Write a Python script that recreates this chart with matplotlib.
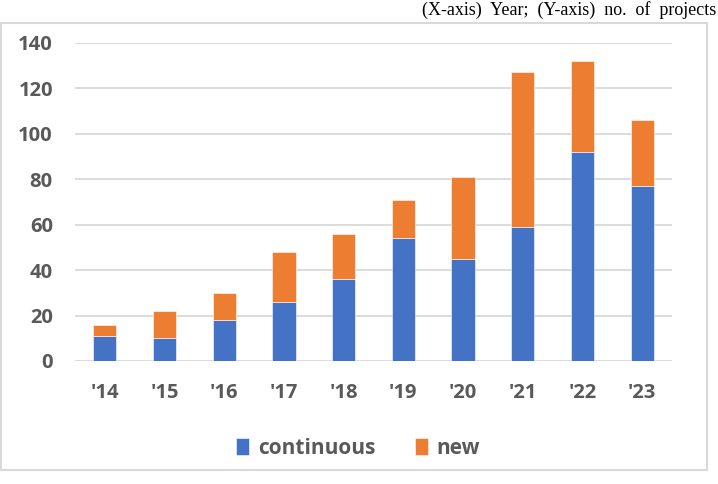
import numpy as np
import matplotlib
matplotlib.use("Agg")
import matplotlib.pyplot as plt
from matplotlib.patches import Rectangle

years = ["'14", "'15", "'16", "'17", "'18", "'19", "'20", "'21", "'22", "'23"]
continuous = [11, 10, 18, 26, 36, 54, 45, 59, 92, 77]
new = [5, 12, 12, 22, 20, 17, 36, 68, 40, 29]
yticks = [0, 20, 40, 60, 80, 100, 120, 140]

blue = '#4472C4'
orange = '#ED7D31'
grey = '#595959'
font = 'Open Sans'

fig = plt.figure(figsize=(7.18, 4.84), dpi=100)

# outer chart frame
fig.patches.append(Rectangle((0.001, 1 - 470/484), 706/718, (470 - 23)/484,
                             transform=fig.transFigure, fill=False,
                             edgecolor='#d9d9d9', linewidth=1.5))
fig.text(0.998, 0.997, '(X-axis)  Year;  (Y-axis)  no.  of  projects', ha='right', va='top',
         family='Liberation Serif', fontsize=13)

ax = fig.add_axes([75/718, 1 - 361/484, (672 - 75)/718, (361 - 42.7)/484])
x = np.arange(len(years))
ax.bar(x, continuous, width=0.39, color=blue, edgecolor='white', linewidth=0.4,
       label='continuous', zorder=3)
ax.bar(x, new, width=0.39, bottom=continuous, color=orange, edgecolor='white',
       linewidth=0.4, label='new', zorder=3)

ax.set_xlim(-0.5, len(years) - 0.5)
ax.set_ylim(0, 140)
ax.set_yticks(yticks)
ax.set_xticks(x)
ax.set_xticklabels(years)
ax.grid(axis='y', color='#d9d9d9', linewidth=1.3, zorder=0)
ax.tick_params(length=0, labelsize=14.5, labelcolor=grey)
ax.tick_params(axis='y', pad=16)
ax.tick_params(axis='x', pad=16)
for lab in ax.get_xticklabels() + ax.get_yticklabels():
    lab.set_family(font)
    lab.set_fontweight('bold')
for s in ax.spines.values():
    s.set_visible(False)

leg = fig.legend(loc='center', bbox_to_anchor=(358/718, 1 - 448/484), ncol=2, frameon=False,
                 prop={'family': font, 'weight': 'bold', 'size': 15},
                 handlelength=0.65, handleheight=0.85, columnspacing=1.9, handletextpad=0.4)
for t in leg.get_texts():
    t.set_color(grey)

fig.savefig('out.png', dpi=100)
